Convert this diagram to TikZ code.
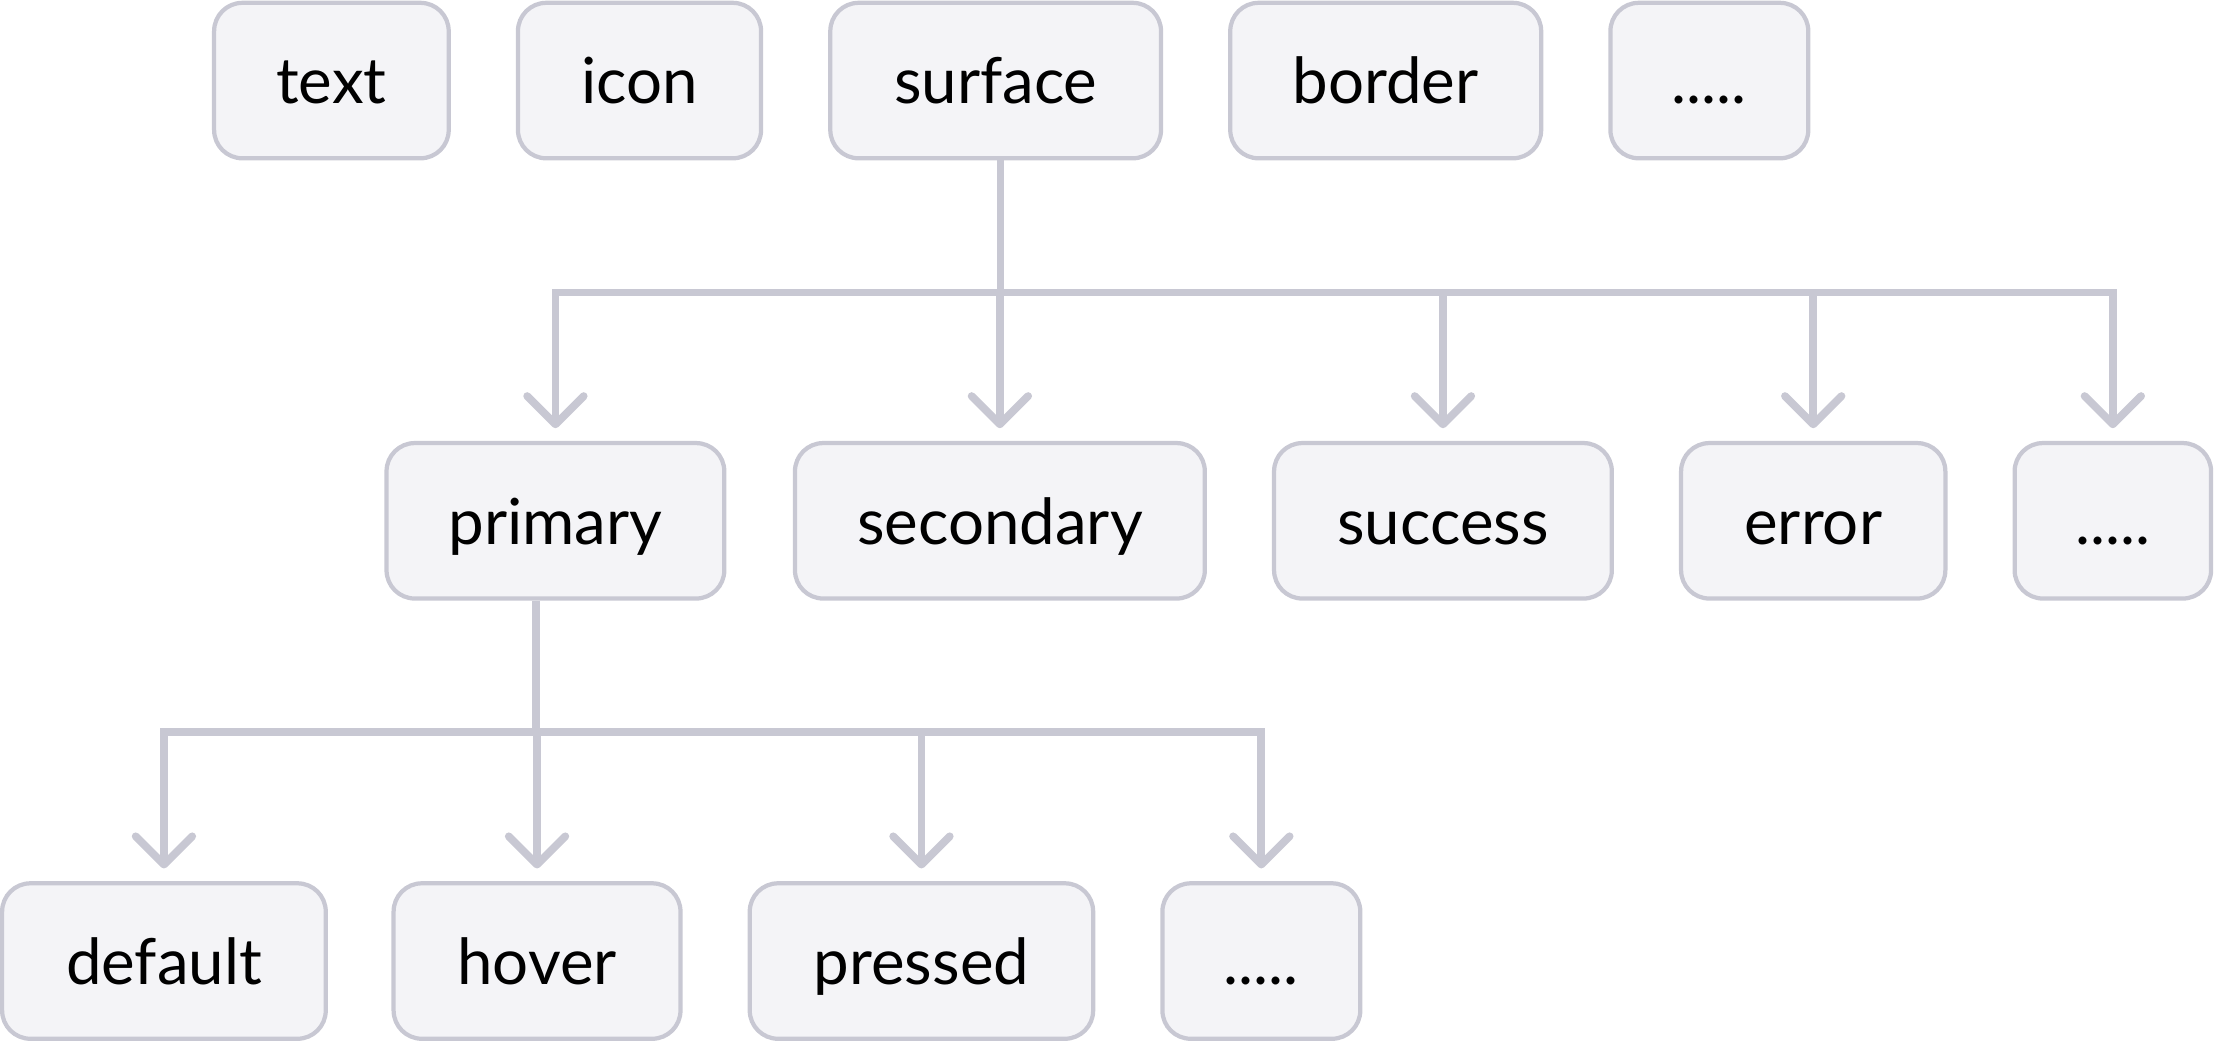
\documentclass[tikz,border=0pt]{standalone}
\usepackage{fontspec}
\setmainfont{Lato}
\usetikzlibrary{arrows.meta}
\usetikzlibrary{positioning}
\definecolor{edgegray}{HTML}{C8C8D3}
\definecolor{boxfill}{HTML}{F4F4F7}

\begin{document}
\begin{tikzpicture}[x=1pt,y=-1pt]
\tikzstyle{token node}=[rectangle,rounded corners=20pt,draw=edgegray,fill=boxfill,line width=3pt,minimum height=110pt,inner sep=0pt,text height=33pt,text depth=0pt,font=\fontsize{45}{54}\selectfont]
\tikzset{
  wire/.style = {draw=edgegray,line width=5.5pt},
  flow/.style = {wire,-{Straight Barb[length=20pt,width=40pt,round]},shorten >=9pt}
}
\useasboundingbox (0,0) rectangle (1568,737);

    % top row
    \node[token node,minimum width=166pt] (text)    at (234.5,57)  {text};
    \node[token node,minimum width=172pt] (icon)    at (452.5,57)  {icon};
    \node[token node,minimum width=234pt] (surface) at (704.5,57)  {surface};
    \node[token node,minimum width=220pt] (border)  at (980.5,57)  {border};
    \node[token node,minimum width=140pt] (more1)   at (1209.5,57) {.....};
    %%%%%%%%%%%%%%%%%%%%%%%%%%%%%%%%%%%
    \node[token node,minimum width=239pt] (primary)   at (393,368.5)  {primary};
    \node[token node,minimum width=290pt] (secondary) at (707.5,368.5) {secondary};
    \node[token node,minimum width=239pt] (success)   at (1021,368.5) {success};
    \node[token node,minimum width=187pt] (error)     at (1283,368.5) {error};
    \node[token node,minimum width=139pt] (more2)     at (1495,368.5) {.....};
    %%%%%%%%%%%%%%%%%%%%%%%%%%%%%%%%%%%
    \node[token node,minimum width=229pt] (default) at (116,680)   {default};
    \node[token node,minimum width=203pt] (hover)   at (380,680)   {hover};
    \node[token node,minimum width=243pt] (pressed) at (652,680)   {pressed};
    \node[token node,minimum width=140pt] (more3)   at (892.5,680) {.....};
    %%%%%%%%%%%%%%%%%%%%%%%%%%%%%%%%%%%
    \coordinate (bus1) at (708,207);
    \coordinate (bus2) at (379,518);

    \draw[wire] (surface.south -| bus1) -- (bus1);
    \draw[flow] (bus1) -| (primary.north);
    \draw[flow] (bus1) -| (secondary.north);
    \draw[flow] (bus1) -| (success.north);
    \draw[flow] (bus1) -| (error.north);
    \draw[flow] (bus1) -| (more2.north);

    \draw[wire] (primary.south -| bus2) -- (bus2);
    \draw[flow] (bus2) -| (default.north);
    \draw[flow] (bus2) -| (hover.north);
    \draw[flow] (bus2) -| (pressed.north);
    \draw[flow] (bus2) -| (more3.north);
\end{tikzpicture}
\end{document}
